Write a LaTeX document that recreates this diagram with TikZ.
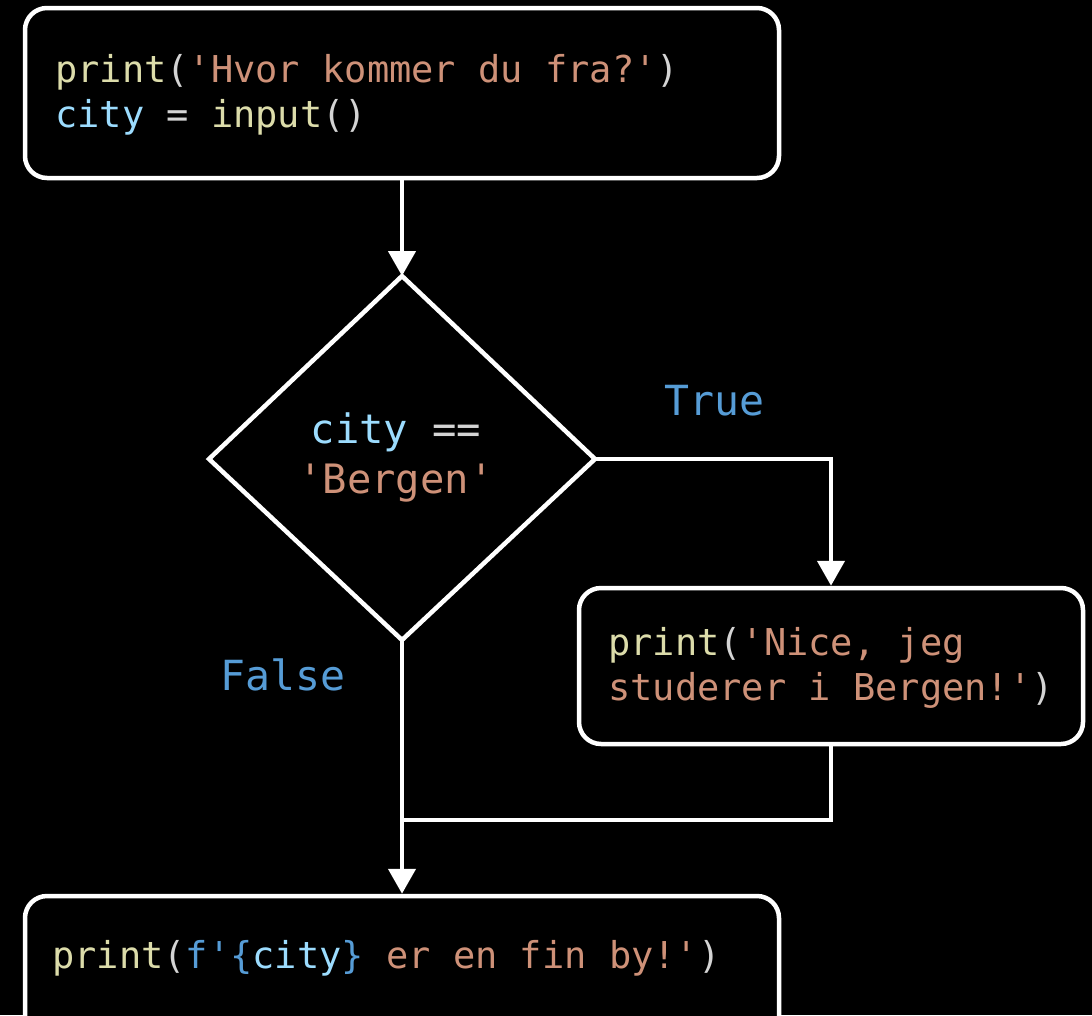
\documentclass[tikz,border=0pt]{standalone}
\usepackage{fontspec}
\setmonofont{DejaVu Sans Mono}
\usetikzlibrary{arrows.meta}
\definecolor{fnc}{HTML}{DCDCAA}
\definecolor{pun}{HTML}{D4D4D4}
\definecolor{str}{HTML}{CE9178}
\definecolor{var}{HTML}{9CDCFE}
\definecolor{kw}{HTML}{569CD6}
\newcommand{\cf}[1]{\textcolor{fnc}{#1}}
\newcommand{\cp}[1]{\textcolor{pun}{#1}}
\newcommand{\cs}[1]{\textcolor{str}{#1}}
\newcommand{\cv}[1]{\textcolor{var}{#1}}
\newcommand{\ck}[1]{\textcolor{kw}{#1}}
\tikzset{
  box/.style={draw=white, line width=4.5pt, rounded corners=22pt, fill=black},
  codetxt/.style={anchor=base west, inner sep=0pt, font=\ttfamily\fontsize{37}{45}\selectfont, align=left},
  dectxt/.style={anchor=base, inner sep=0pt, font=\ttfamily\fontsize{40.5}{50}\selectfont, align=center},
  lbl/.style={anchor=base west, inner sep=0pt, text=kw, font=\ttfamily\fontsize{41.5}{50}\selectfont},
  flow/.style={draw=white, line width=4.5pt, -{Triangle[length=25pt,width=27pt]}},
  plain/.style={draw=white, line width=4.5pt}
}
\begin{document}
\begin{tikzpicture}[x=1pt,y=-1pt]
\fill[black] (0,0) rectangle (1092,1015);
\useasboundingbox (0,0) rectangle (1092,1015);
\clip (0,0) rectangle (1092,1015);
% boxes
\node[box, minimum width=754pt, minimum height=170pt] (top) at (402,93) {};
\node[box, minimum width=504pt, minimum height=156pt] (nice) at (831,666) {};
\node[box, minimum width=754pt, minimum height=150pt] (bot) at (402,971) {};
% diamond
\coordinate (dt) at (402,276);
\coordinate (dl) at (209,459);
\coordinate (dr) at (595,459);
\coordinate (db) at (402,640);
\draw[white, line width=4.5pt, line join=miter] (dt) -- (dr) -- (db) -- (dl) -- cycle;
% texts (base anchor = last line)
\node[codetxt] (t1) at (55,127) {\cf{print}\cp{(}\cs{'Hvor kommer du fra?'}\cp{)}\\\cv{city} \cp{=} \cf{input}\cp{()}};
\node[dectxt] (d1) at (396,443) {\cv{city} \cp{==}};
\node[dectxt] (d2) at (396,493) {\cs{'Bergen'}};
\node[codetxt] (t2) at (608,700) {\cf{print}\cp{(}\cs{'Nice, jeg}\\\cs{studerer i Bergen!'}\cp{)}};
\node[codetxt] (t3) at (52,968) {\cf{print}\cp{(}\ck{f'\{}\cv{city}\ck{\}} \cs{er en fin by!'}\cp{)}};
\node[lbl] (tl) at (664,415) {True};
\node[lbl] (fl) at (220,690) {False};
% connectors
\coordinate (jn) at (402,820);
\draw[flow] (top.south) -- (dt);
\draw[flow] (dr) -| (nice.north);
\draw[plain] (nice.south) |- (jn);
\draw[flow] (db) -- (bot.north);
\end{tikzpicture}
\end{document}
